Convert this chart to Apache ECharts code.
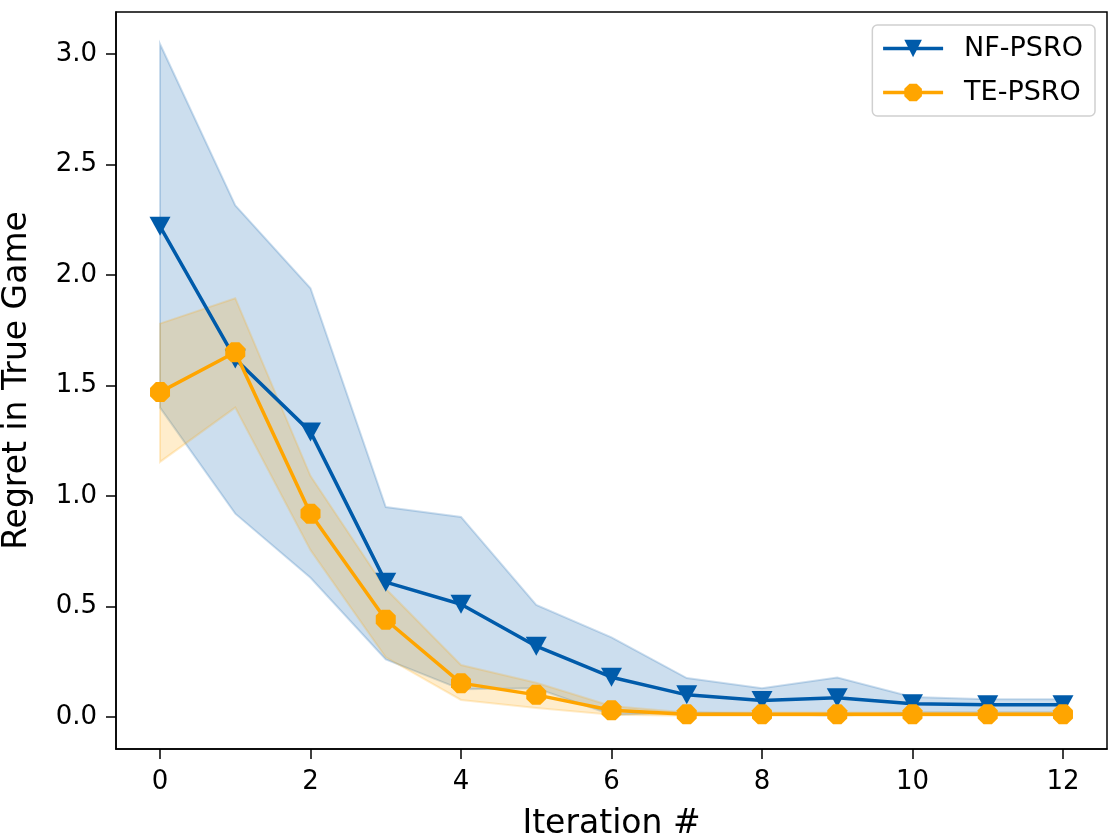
<!DOCTYPE html>
<html>
<head>
<meta charset="utf-8">
<script src="https://cdn.jsdelivr.net/npm/echarts@6/dist/echarts.min.js"></script>
<style>
html,body{margin:0;padding:0;background:#fff;}
#chart{width:1120px;height:840px;}
</style>
</head>
<body>
<div id="chart"></div>
<script>
const iterations = [0,1,2,3,4,5,6,7,8,9,10,11,12];
const nfMean  = [2.22, 1.62, 1.29, 0.61, 0.51, 0.32, 0.18, 0.10, 0.075, 0.087, 0.06, 0.055, 0.055];
const nfUpper = [3.045, 2.315, 1.94, 0.95, 0.905, 0.507, 0.36, 0.176, 0.13, 0.178, 0.09, 0.08, 0.08];
const nfLower = [1.40, 0.92, 0.63, 0.26, 0.125, 0.13, 0.01, 0.02, 0.015, 0.005, 0.02, 0.02, 0.02];
const teMean  = [1.47, 1.65, 0.92, 0.44, 0.153, 0.10, 0.03, 0.012, 0.012, 0.012, 0.012, 0.012, 0.012];
const teUpper = [1.78, 1.895, 1.09, 0.58, 0.235, 0.155, 0.05, 0.02, 0.02, 0.02, 0.02, 0.02, 0.02];
const teLower = [1.154, 1.40, 0.755, 0.27, 0.077, 0.04, 0.01, 0.005, 0.005, 0.005, 0.005, 0.005, 0.005];
const xTicks = [0,2,4,6,8,10,12];
const yTicks = [0,0.5,1,1.5,2,2.5,3];

const BLUE = '#005BAA';
const ORANGE = '#FFA500';
const FONT = 'DejaVu Sans';
const octagon = 'path://M-0.414,-1 L0.414,-1 L1,-0.414 L1,0.414 L0.414,1 L-0.414,1 L-1,0.414 L-1,-0.414 Z';

const pairs = (xs, ys) => xs.map((x, i) => [x, ys[i]]);

function band(name, lower, upper, fill, stroke, z) {
  return {
    name: name, type: 'custom', silent: true, z: z, clip: true,
    data: [[0, 0]],
    renderItem: function (params, api) {
      const pts = [];
      for (let i = 0; i < iterations.length; i++) pts.push(api.coord([iterations[i], upper[i]]));
      for (let i = iterations.length - 1; i >= 0; i--) pts.push(api.coord([iterations[i], lower[i]]));
      return {
        type: 'polygon',
        shape: { points: pts },
        style: { fill: fill, stroke: stroke, lineWidth: 2 }
      };
    }
  };
}

const chart = echarts.init(document.getElementById('chart'), null, { renderer: 'canvas' });
chart.setOption({
  animation: false,
  backgroundColor: '#fff',
  textStyle: { fontFamily: FONT },
  grid: { left: 116, right: 13, top: 12, bottom: 91, containLabel: false, outerBoundsMode: 'none',
    show: true, borderColor: '#000', borderWidth: 1.5, backgroundColor: 'transparent' },
  xAxis: {
    type: 'value', min: -0.585, max: 12.585,
    name: 'Iteration #', nameLocation: 'middle', nameGap: 59,
    nameTextStyle: { fontSize: 33, color: '#000', fontFamily: FONT },
    axisLine: { show: true, onZero: false, lineStyle: { color: '#000', width: 1.5 } },
    axisTick: { show: true, length: 10, inside: false, customValues: xTicks, lineStyle: { color: '#000', width: 1.5 } },
    axisLabel: { customValues: xTicks, fontSize: 26, color: '#000', margin: 20, fontFamily: FONT },
    splitLine: { show: false }
  },
  yAxis: {
    type: 'value', min: -0.145, max: 3.19,
    name: 'Regret in True Game', nameLocation: 'middle', nameGap: 82,
    nameTextStyle: { fontSize: 33, color: '#000', fontFamily: FONT },
    axisLine: { show: true, onZero: false, lineStyle: { color: '#000', width: 1.5 } },
    axisTick: { show: true, length: 10, inside: false, customValues: yTicks, lineStyle: { color: '#000', width: 1.5 } },
    axisLabel: { customValues: yTicks, fontSize: 26, color: '#000', margin: 19, fontFamily: FONT,
      formatter: v => v.toFixed(1) },
    splitLine: { show: false }
  },
  legend: {
    data: ['NF-PSRO', 'TE-PSRO'],
    orient: 'vertical', right: 25, top: 25,
    itemWidth: 60, itemHeight: 22, itemGap: 17,
    padding: [10, 12, 10, 9],
    borderColor: '#d0d0d0', borderWidth: 1.5, borderRadius: 5,
    backgroundColor: '#fff',
    lineStyle: { width: 3.5 },
    textStyle: { fontSize: 27, color: '#000', fontFamily: FONT, padding: [0, 0, 0, 16] }
  },
  series: [
    band('NF band', nfLower, nfUpper, 'rgba(0,91,170,0.2)', 'rgba(0,91,170,0.2)', 1),
    band('TE band', teLower, teUpper, 'rgba(255,165,0,0.2)', 'rgba(255,165,0,0.2)', 2),
    {
      name: 'NF-PSRO', type: 'line', data: pairs(iterations, nfMean), z: 3,
      symbol: 'triangle', symbolRotate: 180, symbolSize: [21, 19], showAllSymbol: true,
      itemStyle: { color: BLUE }, lineStyle: { color: BLUE, width: 3.5 }
    },
    {
      name: 'TE-PSRO', type: 'line', data: pairs(iterations, teMean), z: 4,
      symbol: octagon, symbolSize: 20, showAllSymbol: true,
      itemStyle: { color: ORANGE }, lineStyle: { color: ORANGE, width: 3.5 }
    }
  ]
});
</script>
</body>
</html>
